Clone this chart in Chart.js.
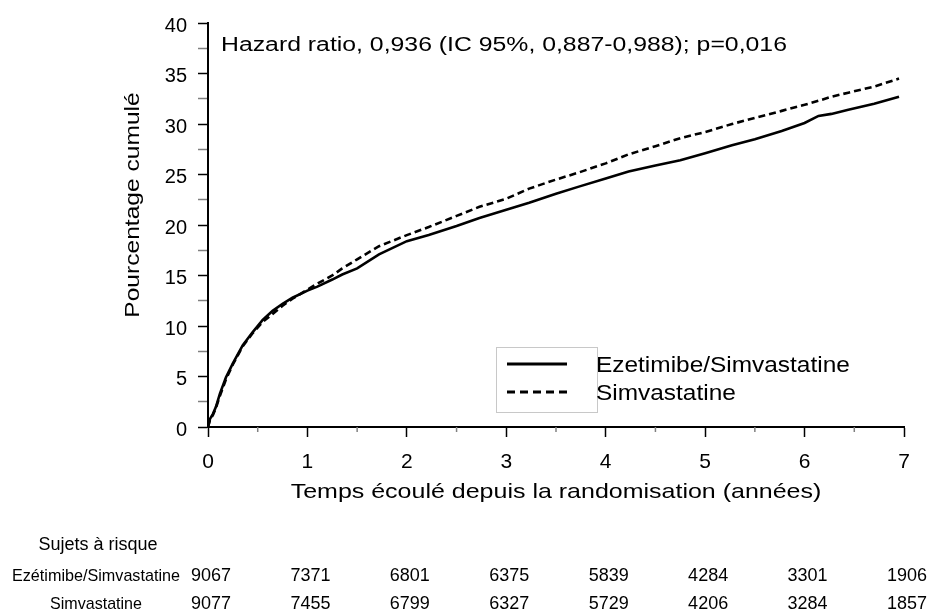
<!DOCTYPE html>
<html>
<head>
<meta charset="utf-8">
<script src="https://cdn.jsdelivr.net/npm/chart.js@4.4.1/dist/chart.umd.min.js"></script>
<style>
  body { margin: 0; background: #fff; }
  canvas { display: block; }
</style>
</head>
<body>
<canvas id="km-chart" width="927" height="611"></canvas>
<script>
// years since randomisation (shared sample points for both curves)
const years = [0, 0.02, 0.05, 0.08, 0.12, 0.18, 0.25, 0.35, 0.45, 0.55, 0.65, 0.75, 0.85, 1.0, 1.1, 1.25,
  1.35, 1.5, 1.72, 2.0, 2.22, 2.5, 2.73, 3.0, 3.23, 3.5, 3.73, 4.0, 4.23, 4.5, 4.75, 5.0, 5.27, 5.5, 5.77,
  6.0, 6.14, 6.27, 6.44, 6.7, 6.95];
// cumulative %
const ezeSimva = [0, 0.8, 1.3, 2.0, 3.3, 4.9, 6.3, 8.1, 9.4, 10.6, 11.5, 12.2, 12.8, 13.5, 13.9, 14.6,
  15.1, 15.7, 17.1, 18.4, 19.0, 19.9, 20.7, 21.5, 22.2, 23.1, 23.8, 24.6, 25.3, 25.9, 26.4, 27.1, 27.9, 28.5, 29.3,
  30.1, 30.8, 31.0, 31.4, 32.0, 32.7];
const simva = [0, 0.7, 1.2, 1.9, 3.1, 4.7, 6.2, 8.0, 9.3, 10.4, 11.2, 12.0, 12.7, 13.6, 14.2, 15.0,
  15.7, 16.6, 17.9, 19.0, 19.8, 20.9, 21.8, 22.6, 23.6, 24.5, 25.2, 26.1, 27.0, 27.8, 28.6, 29.2, 30.0, 30.6, 31.3,
  31.9, 32.3, 32.7, 33.1, 33.7, 34.5];

const seriesNames = ["Ezetimibe/Simvastatine", "Simvastatine"];
const riskLabels = ["Ezétimibe/Simvastatine", "Simvastatine"];
const riskYears = [0, 1, 2, 3, 4, 5, 6, 7];
const riskEzeSimva = [9067, 7371, 6801, 6375, 5839, 4284, 3301, 1906];
const riskSimva = [9077, 7455, 6799, 6327, 5729, 4206, 3284, 1857];

const hazardText = "Hazard ratio, 0,936 (IC 95%, 0,887-0,988); p=0,016";
const xTitle = "Temps écoulé depuis la randomisation (années)";
const yTitle = "Pourcentage cumulé";
const riskTitle = "Sujets à risque";

const FONT = "'Liberation Sans', Arial, sans-serif";

const toPoints = (vals) => years.map((x, i) => ({ x: x, y: vals[i] }));

// text drawn a bit wider than the font, like the original figure
const stretchText = (ctx, text, x, y, size, sx, align, rot) => {
  ctx.save();
  ctx.translate(x, y);
  if (rot) ctx.rotate(rot);
  ctx.scale(sx, 1);
  ctx.font = size + "px " + FONT;
  ctx.textAlign = align;
  ctx.fillText(text, 0, 0);
  ctx.restore();
};

const extras = {
  id: "extras",
  afterDraw(chart) {
    const ctx = chart.ctx;
    const xs = chart.scales.x;
    ctx.save();

    // short minor ticks on the x axis
    ctx.strokeStyle = "#808080";
    ctx.lineWidth = 1.5;
    for (let v = 0.5; v < 7; v += 1) {
      const px = xs.getPixelForValue(v);
      ctx.beginPath();
      ctx.moveTo(px, xs.top);
      ctx.lineTo(px, xs.top + 5);
      ctx.stroke();
    }

    ctx.fillStyle = "#000";
    ctx.textBaseline = "alphabetic";

    stretchText(ctx, hazardText, 221, 51, 20, 1.24, "left");
    stretchText(ctx, xTitle, (xs.left + xs.right) / 2, 498, 21, 1.19, "center");
    stretchText(ctx, yTitle, 139, 205, 21, 1.17, "center", -Math.PI / 2);

    // legend
    ctx.strokeStyle = "#c8c8c8";
    ctx.lineWidth = 1;
    ctx.strokeRect(496.5, 347.5, 101, 65);
    ctx.strokeStyle = "#000";
    ctx.lineWidth = 3;
    ctx.beginPath();
    ctx.moveTo(507, 364);
    ctx.lineTo(567, 364);
    ctx.stroke();
    ctx.setLineDash([8, 5]);
    ctx.beginPath();
    ctx.moveTo(507, 392);
    ctx.lineTo(567, 392);
    ctx.stroke();
    ctx.setLineDash([]);
    stretchText(ctx, seriesNames[0], 596, 372, 22, 1.11, "left");
    stretchText(ctx, seriesNames[1], 596, 400, 22, 1.11, "left");

    // numbers at risk
    ctx.textAlign = "center";
    ctx.font = "18px " + FONT;
    ctx.fillText(riskTitle, 98, 550);
    ctx.font = "17px " + FONT;
    ctx.fillText(riskLabels[0], 96, 581, 168);
    ctx.fillText(riskLabels[1], 96, 609, 92);
    ctx.font = "18px " + FONT;
    riskYears.forEach((yr, i) => {
      const px = xs.getPixelForValue(yr) + 3;
      ctx.fillText(String(riskEzeSimva[i]), px, 581);
      ctx.fillText(String(riskSimva[i]), px, 609);
    });
    ctx.restore();
  }
};

const chartConfig = {
  type: "line",
  data: {
    datasets: [
      {
        label: seriesNames[0],
        data: toPoints(ezeSimva),
        borderColor: "#000",
        borderWidth: 2.6,
        pointRadius: 0,
        tension: 0,
        fill: false
      },
      {
        label: seriesNames[1],
        data: toPoints(simva),
        borderColor: "#000",
        borderWidth: 2.6,
        borderDash: [7, 4],
        pointRadius: 0,
        tension: 0,
        fill: false
      }
    ]
  },
  options: {
    responsive: false,
    animation: false,
    layout: {
      padding: { left: 0, right: 23, top: 16, bottom: 108 }
    },
    plugins: {
      legend: { display: false },
      tooltip: { enabled: false }
    },
    scales: {
      x: {
        type: "linear",
        min: 0,
        max: 7,
        afterFit: (s) => { s.height = 76; },
        border: { color: "#000", width: 2 },
        grid: {
          drawOnChartArea: false,
          tickLength: 10,
          tickWidth: 1.5,
          tickColor: (c) => (Number.isInteger(c.tick.value) ? "#000" : "rgba(0,0,0,0)")
        },
        ticks: {
          stepSize: 0.5,
          autoSkip: false,
          maxRotation: 0,
          padding: 13,
          color: "#000",
          font: { family: FONT, size: 21 },
          callback: (v) => (Number.isInteger(v) ? String(v) : "")
        }
      },
      y: {
        min: 0,
        max: 40,
        afterFit: (s) => { s.width = 208; },
        border: { color: "#000", width: 2 },
        grid: {
          drawOnChartArea: false,
          tickLength: 10,
          tickWidth: 1.5,
          tickColor: (c) => (c.tick.value % 5 === 0 ? "#000" : "#808080")
        },
        ticks: {
          stepSize: 2.5,
          autoSkip: false,
          padding: 11,
          labelOffset: 3,
          color: "#000",
          font: { family: FONT, size: 20 },
          callback: (v) => (v % 5 === 0 ? String(v) : "")
        }
      }
    }
  },
  plugins: [extras]
};

const ctx = document.getElementById("km-chart").getContext("2d");
new Chart(ctx, chartConfig);
</script>
</body>
</html>
